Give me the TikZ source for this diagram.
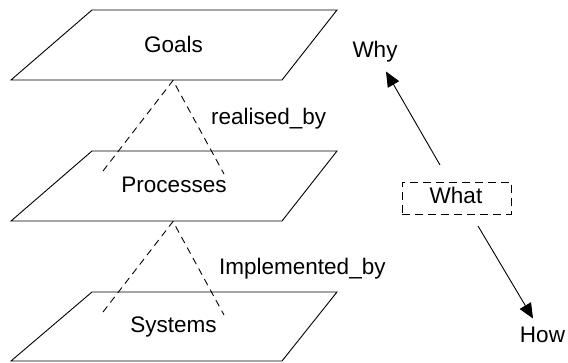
\documentclass[tikz,border=0pt]{standalone}
\usepackage{fontspec}
\setmainfont{Liberation Sans}
\usetikzlibrary{arrows.meta}
\begin{document}
\begin{tikzpicture}[x=1pt,y=-1pt,
  plane/.style={draw=black,line width=0.9pt,line join=miter},
  lbl/.style={inner sep=0pt,font=\fontsize{22.5}{27}\selectfont},
  rel/.style={draw=black,line width=0.9pt,dash pattern=on 7pt off 5pt},
  arr/.style={draw=black,line width=0.9pt,-{Triangle[length=15pt,width=13pt]}},
  whatbox/.style={draw=black,line width=0.9pt,dash pattern=on 8pt off 5pt,minimum width=109pt,minimum height=32pt,inner sep=0pt}]
\useasboundingbox (0,0) rectangle (568,363);
% planes
\draw[plane] (11,80) -- (282,80) -- (337,10) -- (92,10) -- cycle;
\draw[plane] (11,221) -- (282,221) -- (337,151) -- (92,151) -- cycle;
\draw[plane] (11,361) -- (282,361) -- (337,292) -- (92,292) -- cycle;
% labels
\node[lbl,anchor=base] (goals) at (173.5,53) {Goals};
\node[lbl,anchor=base] (processes) at (174,193) {Processes};
\node[lbl,anchor=base] (systems) at (173.5,333) {Systems};
\node[lbl,anchor=base west] (realised) at (211,125) {realised\_by};
\node[lbl,anchor=base west] (implemented) at (219,275) {Implemented\_by};
% dashed triangles
\coordinate (a1) at (173,80.5);
\coordinate (l1) at (103,171);
\coordinate (r1) at (224,174);
\coordinate (a2) at (173,221.5);
\coordinate (l2) at (103,312);
\coordinate (r2) at (224,315);
\draw[rel] (l1) -- (a1) -- (r1);
\draw[rel] (l2) -- (a2) -- (r2);
% right side
\node[whatbox] (whatb) at (456.5,198) {};
\node[lbl,anchor=base] (what) at (456,204) {What};
\node[lbl,anchor=base] (why) at (375,58) {Why};
\node[lbl,anchor=base] (how) at (542.5,343) {How};
\coordinate (s1) at (440,165);
\coordinate (t1) at (386,71.5);
\coordinate (s2) at (478,226);
\coordinate (t2) at (533,318.5);
\draw[arr] (s1) -- (t1);
\draw[arr] (s2) -- (t2);
\end{tikzpicture}
\end{document}
